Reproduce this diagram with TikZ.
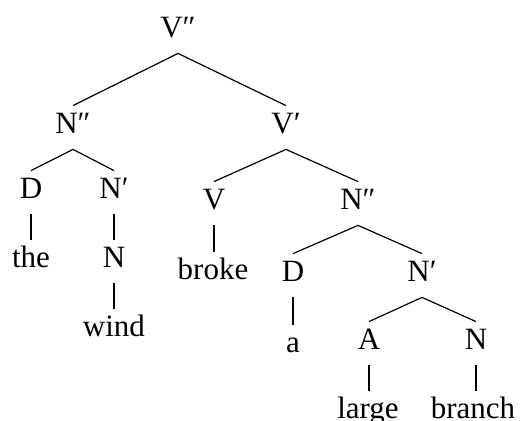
\documentclass[tikz,border=0pt]{standalone}
\usepackage{fontspec}
\setmainfont{Liberation Serif}
\usepackage{tikz}
\usetikzlibrary{positioning}

\begin{document}
\begin{tikzpicture}[
  x=0.5pt, y=-0.5pt,
  font=\fontsize{15.5}{18}\selectfont,
  cat/.style  ={anchor=base, inner sep=0pt, text height=14pt, text depth=7.5pt},
  br/.style   ={line width=0.6pt},
]
\useasboundingbox (0,0) rectangle (520,421);

% ---------------- top: sentence splits into subject and predicate ---------
\node[cat] (vpp) at (178, 38) {V″};
\node[cat] (npp) at ( 73,134) {N″};
\node[cat] (vp)  at (286,134) {V′};

\draw[br] (vpp.south) -- (npp.north);
\draw[br] (vpp.south) -- (vp.north);

% ---------------- subject: the wind ---------------------------------------
\node[cat] (d1)   at ( 31,199) {D};
\node[cat] (np1)  at (114,199) {N′};
\node[cat] (the)  at ( 31,268) {the};
\node[cat] (n1)   at (114,268) {N};
\node[cat] (wind) at (114,337) {wind};

\draw[br] (npp.south) -- (d1.north);
\draw[br] (npp.south) -- (np1.north);
\draw[br] (d1.south)  -- (d1.south |- the.north);
\draw[br] (np1.south) -- (np1.south |- n1.north);
\draw[br] (n1.south)  -- (n1.south |- wind.north);

% ---------------- predicate: broke + object -------------------------------
\node[cat] (v)     at (214,210) {V};
\node[cat] (npp2)  at (358,210) {N″};
\node[cat] (broke) at (213,280) {broke};

\draw[br] (vp.south) -- (v.north);
\draw[br] (vp.south) -- (npp2.north);
\draw[br] (v.south)  -- (v.south |- broke.north);

% ---------------- object: a large branch ----------------------------------
\node[cat] (d2)     at (293,282) {D};
\node[cat] (np2)    at (422,282) {N′};
\node[cat] (a)      at (293,353) {a};
\node[cat] (adj)    at (369,350) {A};
\node[cat] (n2)     at (476,350) {N};
\node[cat] (large)  at (368,419) {large};
\node[cat] (branch) at (473,419) {branch};

\draw[br] (npp2.south) -- (d2.north);
\draw[br] (npp2.south) -- (np2.north);
\draw[br] (d2.south)   -- (d2.south |- a.north);
\draw[br] (np2.south)  -- (adj.north);
\draw[br] (np2.south)  -- (n2.north);
\draw[br] (adj.south)  -- (adj.south |- large.north);
\draw[br] (n2.south)   -- (n2.south |- branch.north);

\end{tikzpicture}
\end{document}
